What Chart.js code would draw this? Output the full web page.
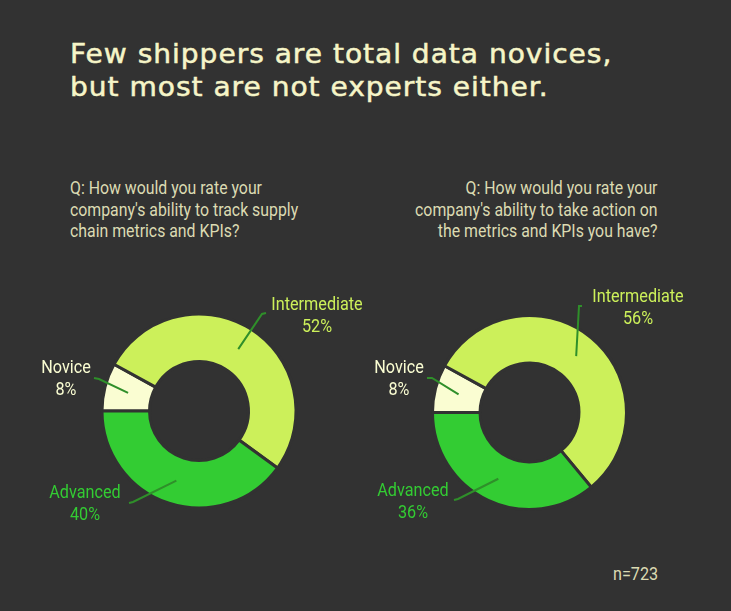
<!DOCTYPE html>
<html>
<head>
<meta charset="utf-8">
<script src="https://cdn.jsdelivr.net/npm/chart.js@4"></script>
<style>
  html, body { margin:0; padding:0; background:#323232; }
  #wrap { position:relative; width:731px; height:611px; overflow:hidden; background:#323232; }
  canvas { position:absolute; left:0; top:0; }
  .title { position:absolute; left:70px; top:38px; font-family:"DejaVu Sans", sans-serif; font-size:26px; line-height:33px; color:#f6f5c8; white-space:nowrap; letter-spacing:0.9px; transform:scaleX(1.08); transform-origin:left top; -webkit-text-stroke:0.5px #f6f5c8; }
  .q { position:absolute; font-family:Roboto, sans-serif; font-size:18px; line-height:21.5px; color:#dcdbb2; white-space:nowrap; transform:scaleX(0.88); }
  .q.left { left:70px; top:177px; transform-origin:left top; text-align:left; }
  .q.right { right:74px; top:177px; transform-origin:right top; text-align:right; }
  .n { position:absolute; left:613px; top:563px; font-family:Roboto, sans-serif; font-size:18px; color:#dcdbb2; transform:scaleX(0.9); transform-origin:left top; }
</style>
</head>
<body>
<div id="wrap">
  <div class="title" id="title"></div>
  <div class="q left" id="q1"></div>
  <div class="q right" id="q2"></div>
  <div class="n" id="n"></div>
  <canvas id="c1" width="731" height="611"></canvas>
  <canvas id="c2" width="731" height="611"></canvas>
</div>
<script>
// ---- data ----
const titleLines = ["Few shippers are total data novices,", "but most are not experts either."];
const categories = ["Novice", "Intermediate", "Advanced"];
const trackValues = [8, 52, 40];
const actionValues = [8, 56, 36];
const question1 = ["Q: How would you rate your", "company's ability to track supply", "chain metrics and KPIs?"];
const question2 = ["Q: How would you rate your", "company's ability to take action on", "the metrics and KPIs you have?"];
const sampleNote = "n=723";

// ---- styles ----
const sliceColors = ["#fafdd2", "#ccf05a", "#33cc33"];
const labelColors = ["#fafdd2", "#ccf05a", "#33cc33"];
const leaderColor = "#2f8f2a";
const bg = "#323232";

document.getElementById('title').innerHTML = titleLines.join('<br>');
document.getElementById('q1').innerHTML = question1.join('<br>');
document.getElementById('q2').innerHTML = question2.join('<br>');
document.getElementById('n').textContent = sampleNote;

// label layouts (page positions of elbow, hook end and text anchor) per chart
const layout1 = {
  center: [199, 411], radius: 97,
  labels: [
    { elbow: [99, 379], hook: [94, 378], text: [66, 373] },
    { elbow: [262, 314], hook: [266, 313], text: [317, 310] },
    { elbow: [133, 502], hook: [129, 503], text: [85, 498] }
  ]
};
const layout2 = {
  center: [529.5, 412.5], radius: 97,
  labels: [
    { elbow: [432, 378], hook: [427, 378], text: [399, 373] },
    { elbow: [579, 306], hook: [582, 306], text: [638, 302] },
    { elbow: [458, 499], hook: [454, 500], text: [413, 496] }
  ]
};

const labelPlugin = {
  id: 'leaderLabels',
  afterDatasetsDraw(chart, args, opts) {
    const ctx = chart.ctx;
    const meta = chart.getDatasetMeta(0);
    const vals = chart.data.datasets[0].data;
    meta.data.forEach((arc, i) => {
      const p = arc.tooltipPosition();
      const L = opts.layout.labels[i];
      ctx.save();
      ctx.strokeStyle = leaderColor;
      ctx.lineWidth = 2;
      ctx.beginPath();
      ctx.moveTo(p.x, p.y);
      ctx.lineTo(L.elbow[0], L.elbow[1]);
      ctx.lineTo(L.hook[0], L.hook[1]);
      ctx.stroke();
      ctx.fillStyle = labelColors[i];
      ctx.font = '400 18px Roboto';
      ctx.textAlign = 'center';
      ctx.textBaseline = 'alphabetic';
      const lines = [chart.data.labels[i], vals[i] + '%'];
      lines.forEach((t, k) => {
        ctx.save();
        ctx.translate(L.text[0], L.text[1] + k * 22);
        ctx.scale(0.9, 1);
        ctx.fillText(t, 0, 0);
        ctx.restore();
      });
      ctx.restore();
    });
  }
};

function makeChart(id, values, lay) {
  const W = 731, H = 611, bw = 3;
  const size = lay.radius * 2 + bw;
  const left = lay.center[0] - size / 2, top = lay.center[1] - size / 2;
  return new Chart(document.getElementById(id), {
    type: 'doughnut',
    data: {
      labels: categories,
      datasets: [{
        data: values,
        backgroundColor: sliceColors,
        borderColor: bg,
        borderWidth: bw
      }]
    },
    options: {
      responsive: false,
      animation: false,
      rotation: 270,
      cutout: '51%',
      layout: { padding: { left: left, top: top, right: W - left - size, bottom: H - top - size } },
      plugins: {
        legend: { display: false },
        tooltip: { enabled: false },
        leaderLabels: { layout: lay }
      }
    },
    plugins: [labelPlugin]
  });
}

makeChart('c1', trackValues, layout1);
makeChart('c2', actionValues, layout2);
</script>
</body>
</html>
